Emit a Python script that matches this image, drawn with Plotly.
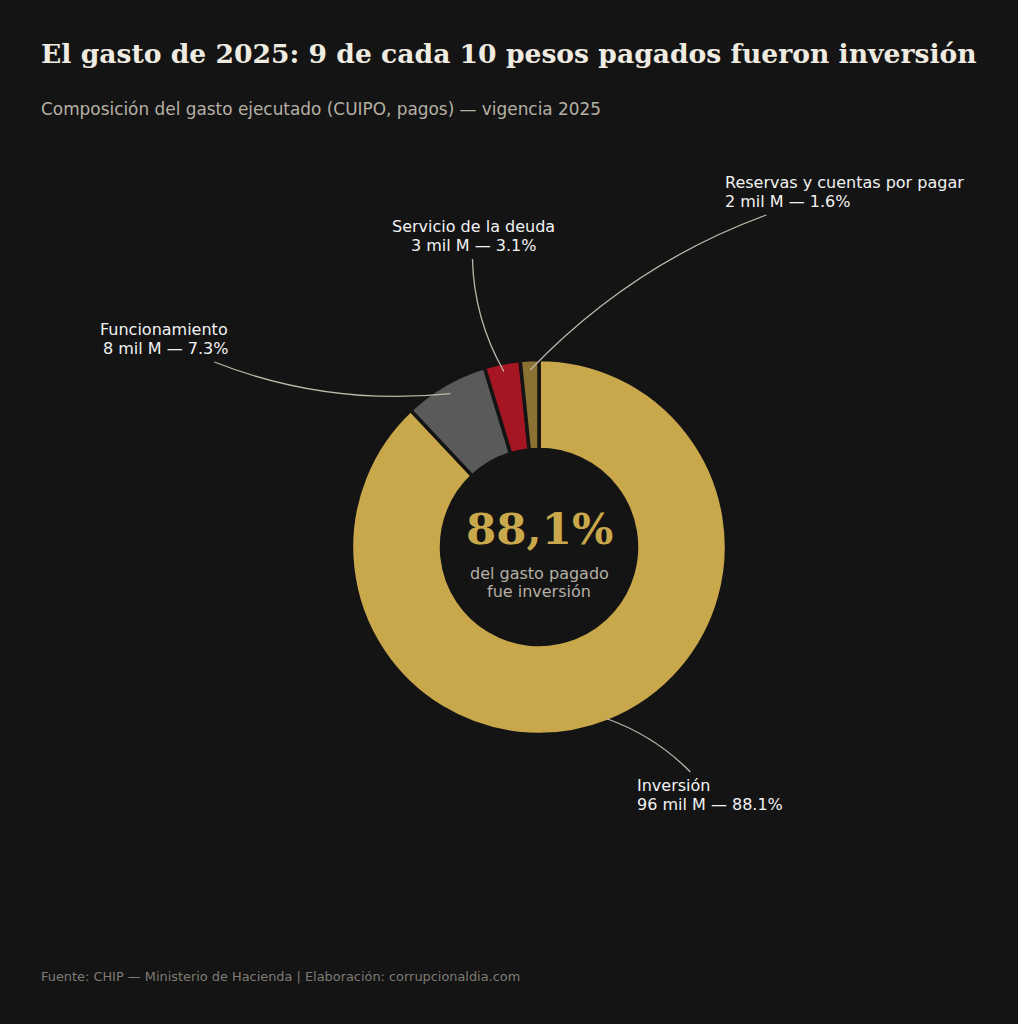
import math
import plotly.graph_objects as go

# datos (miles de millones de pesos, vigencia 2025)
categorias = ["Inversión", "Funcionamiento", "Servicio de la deuda", "Reservas y cuentas por pagar"]
montos_mil_m = [96, 8, 3, 2]
participacion = [88.1, 7.3, 3.1, 1.6]
colores = ["#C9A84C", "#5A5A5A", "#A51622", "#8C7232"]

W, H = 1018, 1024
BG = "#141414"

# geometria de la dona (px)
CX, CY, R = 539, 547, 187.5
HOLE = 0.52

# etiquetas: centro del bloque de texto (px), anclaje horizontal del texto, radio del punto en la cuña
etiquetas = {
    "Inversión": dict(cx=710, cy=795, anchor="left", ax=637, r=0.985),
    "Funcionamiento": dict(cx=164, cy=339, anchor="right", ax=228, r=0.945),
    "Servicio de la deuda": dict(cx=473, cy=236, anchor="center", ax=473, r=0.955),
    "Reservas y cuentas por pagar": dict(cx=845, cy=192, anchor="left", ax=725, r=0.945),
}
RAD = 0.15   # curvatura del conector
CLIP = 23    # recorte del conector en el borde del texto
LINEA = 19   # separacion entre lineas (px)


def paper(x, y):
    return x / W, 1 - y / H


def bez(p0, c, p1, t):
    return ((1 - t) ** 2 * p0[0] + 2 * t * (1 - t) * c[0] + t ** 2 * p1[0],
            (1 - t) ** 2 * p0[1] + 2 * t * (1 - t) * c[1] + t ** 2 * p1[1])


def texto(x, y, s, size, color, family="DejaVu Sans", xanchor="left"):
    px_, py_ = paper(x, y)
    return dict(x=px_, y=py_, xref="paper", yref="paper", showarrow=False,
                xanchor=xanchor, yanchor="middle", text=s, borderpad=0, borderwidth=0,
                font=dict(family=family, size=size, color=color))


fig = go.Figure(go.Pie(
    labels=categorias,
    values=participacion,
    hole=HOLE,
    sort=False,
    direction="clockwise",
    rotation=0,
    marker=dict(colors=colores, line=dict(color=BG, width=3.5)),
    textinfo="none",
    hoverinfo="skip",
    showlegend=False,
    domain=dict(x=[(CX - R) / W, (CX + R) / W], y=[1 - (CY + R) / H, 1 - (CY - R) / H]),
))

total = sum(participacion)
acum = 0
shapes = []
annotations = []
for cat, monto, pct in zip(categorias, montos_mil_m, participacion):
    mid = (acum + pct / 2) / total
    acum += pct
    lab = etiquetas[cat]
    th = 2 * math.pi * mid
    b = (CX + lab["r"] * R * math.sin(th), CY - lab["r"] * R * math.cos(th))
    a = (lab["cx"], lab["cy"])
    dx, dy = b[0] - a[0], b[1] - a[1]
    c = ((a[0] + b[0]) / 2 - RAD * dy, (a[1] + b[1]) / 2 + RAD * dx)
    # recortar la curva en el borde del texto
    sgn = 1 if dy > 0 else -1
    yc = a[1] + sgn * CLIP
    lo, hi = 0.0, 1.0
    for _ in range(50):
        m = (lo + hi) / 2
        if (bez(a, c, b, m)[1] - yc) * sgn < 0:
            lo = m
        else:
            hi = m
    t0 = lo
    p0 = bez(a, c, b, t0)
    c2 = ((1 - t0) * c[0] + t0 * b[0], (1 - t0) * c[1] + t0 * b[1])
    x0, y0 = paper(*p0)
    x1, y1 = paper(*c2)
    x2, y2 = paper(*b)
    shapes.append(dict(type="path", xref="paper", yref="paper",
                       path=f"M {x0},{y0} Q {x1},{y1} {x2},{y2}",
                       line=dict(color="#BDB8AA", width=1.3)))
    for i, s in enumerate([cat, f"{monto} mil M — {pct:.1f}%"]):
        annotations.append(texto(lab["ax"], lab["cy"] + (i - 0.5) * LINEA, s, 16, "#F2F2F2",
                                 xanchor=lab["anchor"]))

# texto central
annotations.append(texto(CX, 528, f"<b>{participacion[0]:.1f}%</b>".replace(".", ","), 43.5,
                         "#C9A84C", family="DejaVu Serif", xanchor="center"))
annotations.append(texto(CX, 573, "del gasto pagado", 16, "#B5B0A5", xanchor="center"))
annotations.append(texto(CX, 591, "fue inversión", 16, "#B5B0A5", xanchor="center"))

# titulo, subtitulo y fuente
annotations.append(texto(41, 53, "<b>El gasto de 2025: 9 de cada 10 pesos pagados fueron inversión</b>",
                         26.6, "#F0EBE0", family="DejaVu Serif"))
annotations.append(texto(41, 109, "Composición del gasto ejecutado (CUIPO, pagos) — vigencia 2025",
                         16.9, "#B5B0A5"))
annotations.append(texto(41, 976, "Fuente: CHIP — Ministerio de Hacienda | Elaboración: corrupcionaldia.com",
                         12.9, "#7F7B73"))

fig.update_layout(
    width=W, height=H,
    paper_bgcolor=BG, plot_bgcolor=BG,
    margin=dict(l=0, r=0, t=0, b=0),
    shapes=shapes,
    annotations=annotations,
)

fig.write_html("out.html", config={"displayModeBar": False},
               post_script="document.body.style.margin='0';document.body.style.background='#141414';")
